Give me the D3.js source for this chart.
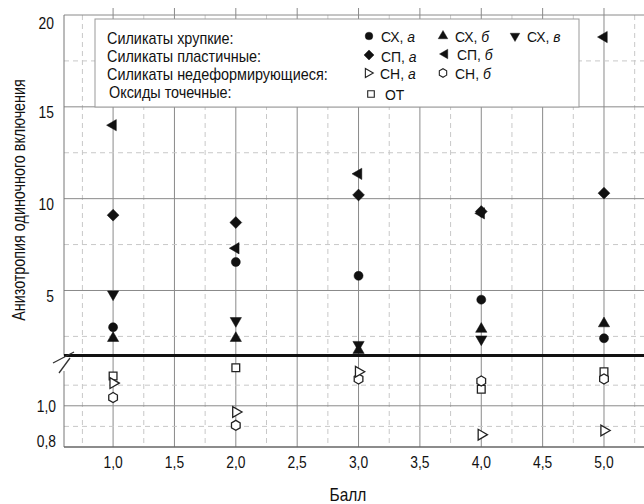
<!DOCTYPE html>
<html><head><meta charset="utf-8">
<script src="https://cdn.jsdelivr.net/npm/d3@7"></script>
<style>
body{margin:0;background:#fff;}
svg text{font-family:"Liberation Sans",Arial,sans-serif;fill:#111;}
</style></head>
<body><svg id="c" width="644" height="504"></svg>
<script>
// ---- data ----
const balls = [1, 2, 3, 4, 5];
const sxA = [3.0, 6.55, 5.8, 4.5, 2.4];      // СХ, а  (filled circle)
const sxB = [2.4, 2.4, 1.75, 2.9, 3.2];      // СХ, б  (filled up triangle)
const sxV = [4.8, 3.35, 2.05, 2.35, null];   // СХ, в  (filled down triangle)
const spA = [9.1, 8.7, 10.2, 9.3, 10.3];     // СП, а  (filled diamond)
const spB = [14.0, 7.3, 11.35, 9.2, 18.8];   // СП, б  (filled left triangle)
const snA = [1.11, 0.97, 1.165, 0.86, 0.88]; // СН, а  (open right triangle)
const snB = [1.04, 0.905, 1.13, 1.12, 1.13]; // СН, б  (open hexagon)
const ot  = [1.145, 1.185, null, 1.08, 1.165]; // ОТ (open square)
const xTicks = [1.0, 1.5, 2.0, 2.5, 3.0, 3.5, 4.0, 4.5, 5.0];
const yTicksUpper = [5, 10, 15, 20];
const yTicksLower = [0.8, 1.0];
const yTitle = "Анизотропия одиночного включения";
const xTitle = "Балл";
const legendGroups = ["Силикаты хрупкие:", "Силикаты пластичные:", "Силикаты недеформирующиеся:", "Оксиды точечные:"];

// ---- layout ----
const svg = d3.select("#c");
const L = 64, R = 644, T = 15, BRK = 355.5, B = 447;
const x = d3.scaleLinear().domain([0.6, 5.326]).range([L, R]);
const yU = d3.scaleLinear().domain([1.46, 20]).range([BRK, T]);
const yL = d3.scaleLinear().domain([0.8, 1.244]).range([B, BRK]);
const fmt = v => d3.format(".1f")(v).replace(".", ",");

function txt(g, tx, ty, size, anchor, sx, rot) {
  return g.append("text")
    .attr("transform", `translate(${tx},${ty})` + (rot ? ` rotate(${rot})` : "") + ` scale(${sx},1)`)
    .attr("text-anchor", anchor || "start").style("font-size", size + "px");
}

const grid = svg.append("g");
d3.range(0.75, 5.33, 0.25).forEach(v => {
  const major = Math.abs(v * 2 - Math.round(v * 2)) < 1e-6;
  grid.append("line").attr("x1", x(v)).attr("x2", x(v)).attr("y1", major ? 8 : T).attr("y2", B)
    .attr("stroke", major ? "#8a8a8a" : "#c8c8c8").attr("stroke-width", 1)
    .attr("stroke-dasharray", major ? null : "5,4");
});
[2.5, 5, 7.5, 10, 12.5, 15, 17.5, 20].forEach(v => {
  const major = v % 5 === 0;
  grid.append("line").attr("x1", L).attr("x2", R).attr("y1", yU(v)).attr("y2", yU(v))
    .attr("stroke", major ? "#8a8a8a" : "#c8c8c8").attr("stroke-dasharray", major ? null : "5,4");
});
[0.9, 1.0, 1.1].forEach(v => {
  const major = Math.abs(v - 1) < 1e-6;
  grid.append("line").attr("x1", L).attr("x2", R).attr("y1", yL(v)).attr("y2", yL(v))
    .attr("stroke", major ? "#8a8a8a" : "#c8c8c8").attr("stroke-dasharray", major ? null : "5,4");
});

svg.append("line").attr("x1", L).attr("x2", L).attr("y1", T).attr("y2", BRK).attr("stroke", "#777");
svg.append("line").attr("x1", L).attr("x2", L).attr("y1", 371).attr("y2", B).attr("stroke", "#777");
svg.append("line").attr("x1", L).attr("x2", R).attr("y1", B).attr("y2", B).attr("stroke", "#666").attr("stroke-width", 1.5);
svg.append("line").attr("x1", L).attr("x2", R).attr("y1", BRK).attr("y2", BRK).attr("stroke", "#111").attr("stroke-width", 3);
svg.append("line").attr("x1", 53).attr("y1", 363).attr("x2", 74).attr("y2", 352).attr("stroke", "#333").attr("stroke-width", 1.3);
svg.append("line").attr("x1", 59).attr("y1", 373).attr("x2", 70).attr("y2", 358).attr("stroke", "#333").attr("stroke-width", 1.3);

yTicksUpper.forEach(v => txt(svg, 54, Math.max(yU(v) + 11.5, 28.5), 16.5, "end", 0.84).text(v));
yTicksLower.forEach(v => txt(svg, 56, Math.min(yL(v) + 6, 447), 16.5, "end", 0.84).text(fmt(v)));
xTicks.forEach(v => txt(svg, x(v), 467.5, 16.5, "middle", 0.84).text(fmt(v)));
txt(svg, 25, 200, 17.5, "middle", 0.82, -90).text(yTitle);
txt(svg, 348, 501, 18, "middle", 0.86).text(xTitle);

const hexPath = r => d3.line()(d3.range(6).map(i => [r * Math.cos(Math.PI / 6 + i * Math.PI / 3), r * Math.sin(Math.PI / 6 + i * Math.PI / 3)])) + "Z";
const defs = {
  sxA: {path: d3.symbol(d3.symbolCircle, 64)(), rot: 0, open: false},
  sxB: {path: d3.symbol(d3.symbolTriangle, 55)(), rot: 0, open: false},
  sxV: {path: d3.symbol(d3.symbolTriangle, 55)(), rot: 180, open: false},
  spA: {path: d3.symbol(d3.symbolSquare, 70)(), rot: 45, open: false},
  spB: {path: d3.symbol(d3.symbolTriangle, 55)(), rot: -90, open: false},
  snA: {path: d3.symbol(d3.symbolTriangle, 50)(), rot: 90, open: true},
  snB: {path: hexPath(5), rot: 0, open: true},
  ot:  {path: d3.symbol(d3.symbolSquare, 60)(), rot: 0, open: true}
};
function mark(g, key, cx, cy, s) {
  const d = defs[key];
  g.append("path").attr("d", d.path).attr("transform", `translate(${cx},${cy}) rotate(${d.rot}) scale(${s || 1})`)
    .attr("fill", d.open ? "#fff" : "#111").attr("stroke", d.open ? "#222" : "#111")
    .attr("stroke-width", d.open ? 1.3 : 0.5);
}
const upper = [["spB", spB], ["spA", spA], ["sxA", sxA], ["sxV", sxV], ["sxB", sxB]];
const lower = [["ot", ot], ["snB", snB], ["snA", snA]];
const mg = svg.append("g");
upper.forEach(([k, arr]) => arr.forEach((v, i) => { if (v != null) mark(mg, k, x(balls[i]), yU(v)); }));
lower.forEach(([k, arr]) => arr.forEach((v, i) => { if (v != null) mark(mg, k, x(balls[i]), yL(v)); }));

const lg = svg.append("g");
lg.append("rect").attr("x", 95).attr("y", 19).attr("width", 484).attr("height", 88)
  .attr("fill", "#fff").attr("stroke", "#999");
legendGroups.forEach((t, i) => txt(lg, i === 3 ? 109 : 107, 44 + i * 18, 16, "start", 0.9).text(t));
const items = [
  ["sxA", 369, 36, "СХ, ", "а"], ["sxB", 443, 36, "СХ, ", "б"], ["sxV", 515, 36, "СХ, ", "в"],
  ["spA", 369, 55, "СП, ", "а"], ["spB", 445, 54, "СП, ", "б"],
  ["snA", 368, 73, "СН, ", "а"], ["snB", 443, 73, "СН, ", "б"],
  ["ot", 371, 94, "ОТ", ""]
];
items.forEach(([k, cx, cy, t, it]) => {
  mark(lg, k, cx, cy, 0.85);
  const tx = txt(lg, cx + (k === "ot" ? 14 : 12), cy + 6 + (k === "spA" ? 1 : 0), 15.5, "start", 0.9);
  tx.append("tspan").text(t);
  if (it) tx.append("tspan").style("font-style", "italic").text(it);
});
</script></body></html>
